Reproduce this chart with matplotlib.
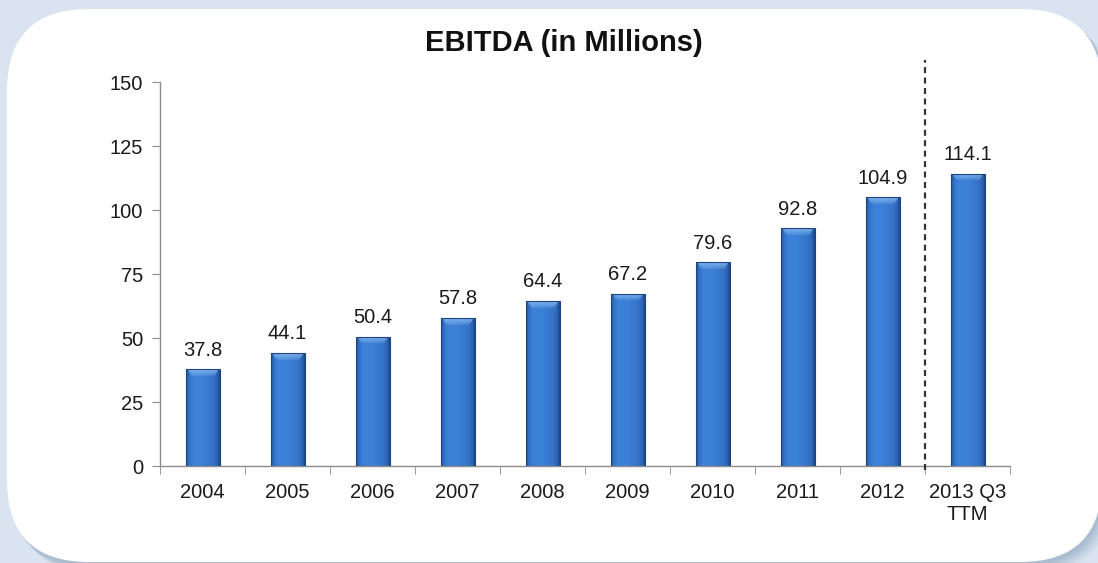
import numpy as np
import matplotlib
matplotlib.use("Agg")
import matplotlib.pyplot as plt
from matplotlib.patches import FancyBboxPatch
from matplotlib.colors import to_rgb

# EBITDA by year (USD millions)
categories = ["2004", "2005", "2006", "2007", "2008", "2009", "2010", "2011", "2012", "2013 Q3\nTTM"]
ebitda = [37.8, 44.1, 50.4, 57.8, 64.4, 67.2, 79.6, 92.8, 104.9, 114.1]
y_ticks = [0, 25, 50, 75, 100, 125, 150]
title = "EBITDA (in Millions)"

W, H, DPI = 1098, 563, 100
plt.rcParams["font.family"] = ["Liberation Sans", "DejaVu Sans"]

fig = plt.figure(figsize=(W / DPI, H / DPI), dpi=DPI)
fig.patch.set_facecolor("#dae4f0")

# soft shadow behind the white panel
px = fig.dpi_scale_trans
def panel(x0, y0, x1, y1, r, **kw):
    return FancyBboxPatch((x0 / DPI + r, y0 / DPI + r), (x1 - x0) / DPI - 2 * r,
                          (y1 - y0) / DPI - 2 * r,
                          boxstyle=f"round,pad={r},rounding_size={r}",
                          transform=px, **kw)

for i, a in enumerate([0.10, 0.09, 0.08, 0.07, 0.06]):
    off = 2 + 2 * i
    fig.patches.append(panel(7 + off, -1 - off, 1102 + off, 554 - off, 0.82,
                             facecolor="#5a7aa0", edgecolor="none", alpha=a, zorder=0))
fig.patches.append(panel(7, 1, 1102, 554, 0.82, facecolor="white",
                         edgecolor="none", zorder=1))

ax = fig.add_axes([160 / W, 1 - 466 / H, 850 / W, 384 / H])
ax.set_facecolor("none")
ax.set_zorder(2)

x = np.arange(len(categories))
bar_w = 0.4
bars = ax.bar(x, ebitda, width=bar_w, facecolor="none",
              edgecolor="#1f4580", linewidth=0.8, zorder=3)

# shaded fill for each bar: darker edges, bright centre, light bevel on top
stops = np.array([0.0, 0.07, 0.22, 0.5, 0.8, 0.94, 1.0])
cols = np.array([to_rgb(c) for c in
                 ["#1f4d8f", "#3170c4", "#3d82d9", "#3c80d7", "#3574c8", "#2b62b0", "#1d4684"]])
light = np.array(to_rgb("#8fc0f2"))
px_per_unit = 384 / 150
ncol = 60
u = np.linspace(0, 1, ncol)
prof = np.stack([np.interp(u, stops, cols[:, k]) for k in range(3)], axis=1)

for rect, v in zip(bars, ebitda):
    nrow = max(int(round(v * px_per_unit)), 2)
    img = np.repeat(prof[None, :, :], nrow, axis=0).copy()
    bevel = 7
    for r in range(min(bevel, nrow)):
        inset = 0.04 + 0.12 * (r / bevel)
        mask = (u > inset) & (u < 1 - inset)
        f = 0.75 * (1 - r / bevel) ** 0.7
        img[r, mask] = img[r, mask] * (1 - f) + light * f
    x0 = rect.get_x()
    im = ax.imshow(img, extent=[x0, x0 + bar_w, 0, v], origin="upper",
                   aspect="auto", interpolation="bilinear", zorder=2.5)
    im.set_clip_path(rect)
    ax.annotate(f"{v:.1f}", (rect.get_x() + bar_w / 2, v), xytext=(0, 7),
                textcoords="offset points", ha="center", va="bottom",
                fontsize=14.5, color="#1a1a1a")

ax.set_xlim(-0.5, len(categories) - 0.5)
ax.set_ylim(0, 150)

# dashed separator before the trailing-twelve-month column
ax.plot([len(categories) - 1.5] * 2, [-1.5, 158.5], linestyle=(0, (2.7, 2.0)),
        color="#333333", linewidth=1.6, clip_on=False, zorder=4)

for side in ("top", "right"):
    ax.spines[side].set_visible(False)
for side in ("left", "bottom"):
    ax.spines[side].set_color("#8c8c8c")
    ax.spines[side].set_linewidth(1.0)

ax.set_yticks(y_ticks)
ax.set_xticks(x)
ax.set_xticklabels(categories)
ax.set_xticks(np.arange(-0.5, len(categories)), minor=True)
ax.tick_params(axis="x", which="major", length=0, pad=12, labelsize=14.5,
               labelcolor="#1a1a1a")
ax.tick_params(axis="x", which="minor", length=6, color="#8c8c8c", direction="out")
ax.tick_params(axis="y", length=6, color="#8c8c8c", pad=6, labelsize=14.5,
               labelcolor="#1a1a1a")

fig.text(564 / W, 1 - 43 / H, title, ha="center", va="center",
         fontsize=21, fontweight="bold", color="#111111", zorder=5)

fig.savefig("out.png", dpi=DPI, facecolor=fig.get_facecolor())
